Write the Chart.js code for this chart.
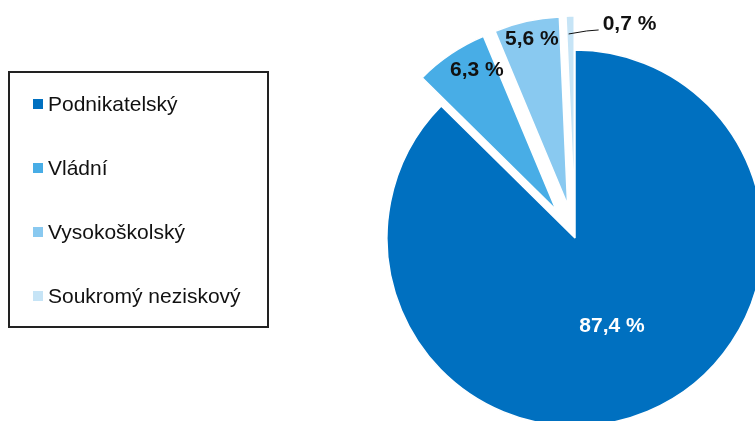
<!DOCTYPE html>
<html>
<head>
<meta charset="utf-8">
<script src="https://cdn.jsdelivr.net/npm/chart.js@4"></script>
<style>
  html, body { margin: 0; padding: 0; background: #fff; }
  body { width: 755px; height: 421px; position: relative; overflow: hidden; font-family: "Liberation Sans", Arial, sans-serif; }
  #chart { position: absolute; left: 0; top: 0; }
  #legend { position: absolute; left: 8px; top: 71px; width: 261px; height: 257px; box-sizing: border-box; border: 2px solid #222; }
  .item { position: absolute; left: 23px; height: 24px; display: flex; align-items: center; font-size: 21px; color: #111; white-space: nowrap; }
  .item i { display: block; width: 10px; height: 10px; margin-right: 5px; }
</style>
</head>
<body>
<canvas id="chart" width="755" height="421"></canvas>
<div id="legend"></div>
<script>
const categories = ['Podnikatelský', 'Vládní', 'Vysokoškolský', 'Soukromý neziskový'];
const shares = [87.4, 6.3, 5.6, 0.7];
const colours = ['#0070c0', '#48ade6', '#89c9f0', '#c6e4f6'];

const pctText = v => v.toFixed(1).replace('.', ',') + ' %';

// legend as plain html, one row per category
const legendBox = document.getElementById('legend');
categories.forEach((name, i) => {
  const row = document.createElement('div');
  row.className = 'item';
  row.style.top = (19 + i * 64) + 'px';
  row.innerHTML = '<i style="background:' + colours[i] + '"></i>' + name;
  legendBox.appendChild(row);
});

// pull the small slices out of the pie. chart.js's own "offset" also trims and
// grows the slice, so move the arc centres instead
const explodeBy = [0, 34, 34, 34];
const explode = {
  id: 'explode',
  beforeDatasetsDraw(chart) {
    const area = chart.chartArea;
    const cx = (area.left + area.right) / 2;
    const cy = (area.top + area.bottom) / 2;
    chart.getDatasetMeta(0).data.forEach((arc, i) => {
      const mid = (arc.startAngle + arc.endAngle) / 2;
      arc.x = cx + Math.cos(mid) * explodeBy[i];
      arc.y = cy + Math.sin(mid) * explodeBy[i];
    });
  }
};

// where each value label sits inside its slice (t = along the angle, r = share of radius)
const labelSpots = [
  { t: 0.5, r: 0.51, colour: '#fff' },
  { t: 0.7, r: 0.855, colour: '#111' },
  { t: 0.52, r: 0.9, colour: '#111' },
  { t: 0.25, r: 0.905, colour: '#111', leader: true }
];

const valueLabels = {
  id: 'valueLabels',
  afterDatasetsDraw(chart) {
    const ctx = chart.ctx;
    const meta = chart.getDatasetMeta(0);
    ctx.save();
    ctx.font = 'bold 21px "Liberation Sans", Arial, sans-serif';
    ctx.textBaseline = 'middle';
    meta.data.forEach((arc, i) => {
      const spot = labelSpots[i];
      const ang = arc.startAngle + spot.t * (arc.endAngle - arc.startAngle);
      const x = arc.x + Math.cos(ang) * spot.r * arc.outerRadius;
      const y = arc.y + Math.sin(ang) * spot.r * arc.outerRadius;
      ctx.fillStyle = spot.colour;
      if (spot.leader) {
        ctx.strokeStyle = '#111';
        ctx.lineWidth = 1;
        ctx.beginPath();
        ctx.moveTo(x, y);
        ctx.lineTo(x + 18, y - 3);
        ctx.lineTo(x + 30, y - 4);
        ctx.stroke();
        ctx.textAlign = 'left';
        ctx.fillText(pctText(shares[i]), x + 34, y - 10);
      } else {
        ctx.textAlign = 'center';
        ctx.fillText(pctText(shares[i]), x, y);
      }
    });
    ctx.restore();
  }
};

new Chart(document.getElementById('chart'), {
  type: 'pie',
  data: {
    labels: categories,
    datasets: [{
      data: shares,
      backgroundColor: colours,
      borderColor: '#fff',
      borderWidth: 1.5
    }]
  },
  options: {
    responsive: false,
    animation: false,
    radius: 188,
    layout: { padding: { left: 395, top: 55, right: 0, bottom: 0 } },
    plugins: {
      legend: { display: false },
      tooltip: { enabled: false }
    }
  },
  plugins: [explode, valueLabels]
});
</script>
</body>
</html>
